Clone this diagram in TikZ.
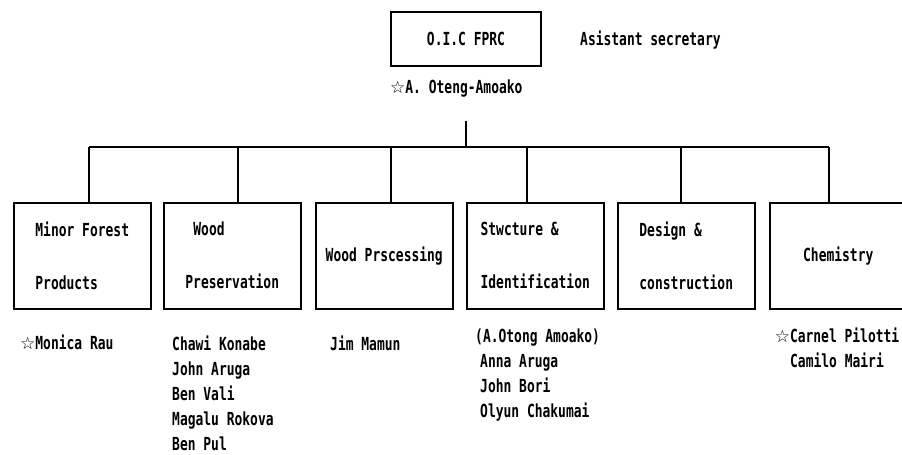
\documentclass[tikz,border=0pt]{standalone}
\usepackage{fontspec}
\setmainfont{DejaVu Sans Mono}[FakeStretch=0.72]
\newfontfamily\starfont{DejaVu Sans}
\usetikzlibrary{positioning}
\newcommand{\wstar}{{\starfont\fontsize{17}{17}\selectfont ☆}}
\tikzset{
  orgbox/.style={draw, line width=1.5pt, minimum width=137pt, minimum height=106pt,
                 anchor=north west, inner sep=0pt, align=left},
  hdbox/.style={draw, line width=1.5pt, minimum width=150pt, minimum height=54pt},
  staff/.style={anchor=north west, align=left, inner sep=0pt},
  conn/.style={line width=1.5pt},
}

\begin{document}
\begin{tikzpicture}[x=1pt, y=-1pt, font=\fontsize{18}{25}\selectfont\bfseries]
  \useasboundingbox (0,0) rectangle (902,455);
  % head of the centre
  \node[hdbox](oic) at (466,39){O.I.C FPRC};
  \node[anchor=west, inner sep=0pt](asst) at (580,40){Asistant secretary};
  \node[staff](head) at (390,80){\wstar A. Oteng-Amoako};
  % sections
  \node[orgbox](u1) at (13,202){Minor Forest\\[28pt]Products};
  \node[orgbox](u2) at (163,202){\hspace*{8pt}Wood\\[28pt]Preservation};
  \node[orgbox](u3) at (315,202){Wood Prscessing};
  \node[orgbox](u4) at (466,202){Stwcture \&\\[28pt]Identification};
  \node[orgbox](u5) at (617,202){Design \&\\[28pt]construction};
  \node[orgbox](u6) at (769,202){Chemistry};
  % staff lists
  \node[staff](s1) at (20,335){\wstar Monica Rau};
  \node[staff](s2) at (172,336){Chawi Konabe\\John Aruga\\Ben Vali\\Magalu Rokova\\Ben Pul};
  \node[staff](s3) at (330,336){Jim Mamun};
  \node[staff](s4) at (475,329){(A.Otong Amoako)\\\hspace*{5pt}Anna Aruga\\\hspace*{5pt}John Bori\\\hspace*{5pt}Olyun Chakumai};
  \node[staff, anchor=north, align=center](s6) at (837,328){\wstar Carnel Pilotti\\Camilo Mairi};
  % connectors
  \coordinate (trunk) at (466,121);
  \coordinate (bus) at (466,147);
  \draw[conn](trunk)--(bus);
  \foreach \i/\x in {1/89, 2/238, 3/391, 4/527, 5/681, 6/829}{
    \coordinate (d\i) at (\x,147);
    \draw[conn](d\i)--(d\i |- u\i.north);
  }
  \draw[conn](d1)--(d6);
\end{tikzpicture}
\end{document}
